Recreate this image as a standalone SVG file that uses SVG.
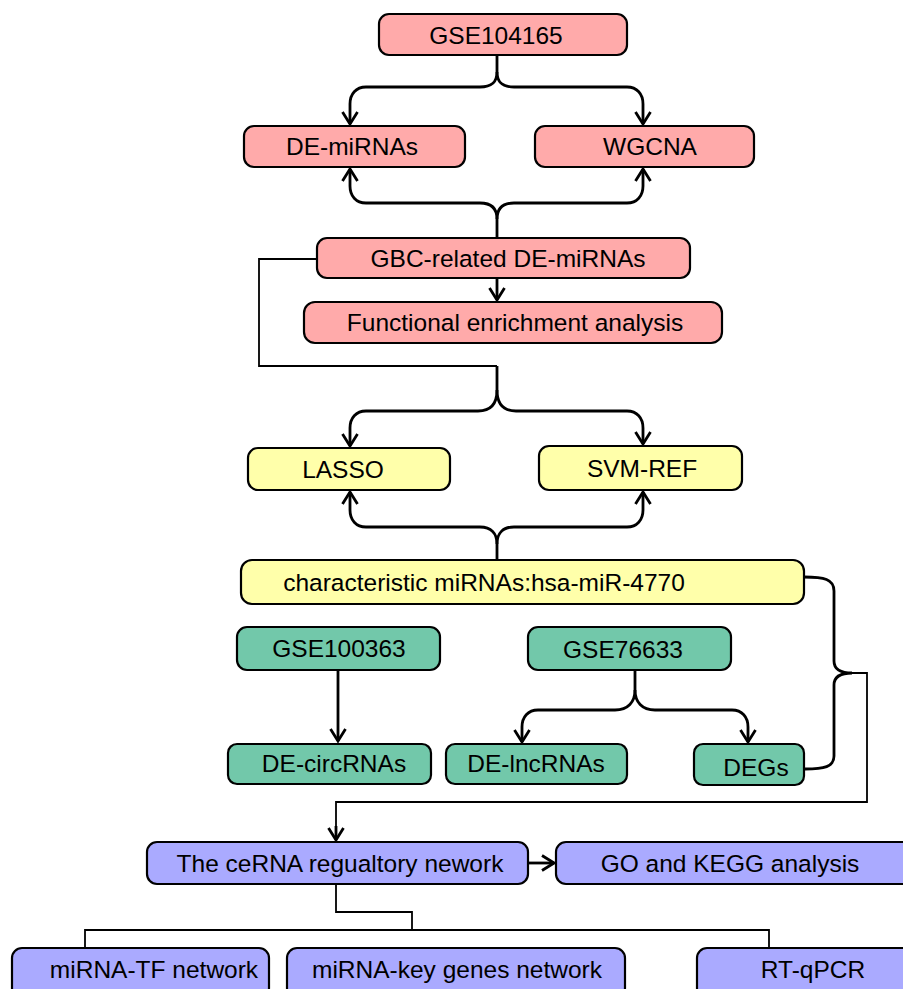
<svg xmlns="http://www.w3.org/2000/svg" width="903" height="989" viewBox="0 0 903 989">
<defs>
<marker id="ah" markerUnits="userSpaceOnUse" viewBox="0 0 16 18" markerWidth="16" markerHeight="18" refX="14" refY="9" orient="auto">
<path d="M2,1.5 L14,9 L2,16.5" fill="none" stroke="#000" stroke-width="2.8" stroke-linejoin="miter"/>
</marker>
</defs>
<style>
.box{stroke:#000;stroke-width:2.2}
.pink{fill:#FFAAAA}
.yellow{fill:#FFFFAA}
.green{fill:#72C8AA}
.purple{fill:#AAAAFF}
text{font-family:"Liberation Sans",Arial,sans-serif;font-size:24.5px;fill:#000;text-anchor:middle}
.c{fill:none;stroke:#000;stroke-width:2.8}
.t{fill:none;stroke:#000;stroke-width:1.8}
</style>
<rect width="903" height="989" fill="#fff"/>
<g id="connectors">
<path class="c" d="M497 54 V72 C497 83 491 87 480 87 H366 C356 87 350 94 350 104 V124" marker-end="url(#ah)"/>
<path class="c" d="M497 72 C497 83 503 87 514 87 H627 C637 87 643 94 643 104 V124" marker-end="url(#ah)"/>
<path class="c" d="M497 238 V219 C497 208 491 203 480 203 H366 C356 203 350 196 350 186 V169" marker-end="url(#ah)"/>
<path class="c" d="M497 219 C497 208 503 203 514 203 H627 C637 203 643 196 643 186 V169" marker-end="url(#ah)"/>
<path class="c" d="M497 278 V300" marker-end="url(#ah)"/>
<path class="t" d="M317 259 H259 V366 H497"/>
<path class="c" d="M497 366 V390 C497 404 491 411 478 411 H366 C356 411 350 418 350 428 V446" marker-end="url(#ah)"/>
<path class="c" d="M497 390 C497 404 503 411 516 411 H627 C637 411 643 418 643 428 V444" marker-end="url(#ah)"/>
<path class="c" d="M497 560 V544 C497 533 491 527 480 527 H366 C356 527 350 520 350 510 V492" marker-end="url(#ah)"/>
<path class="c" d="M497 544 C497 533 503 527 514 527 H627 C637 527 643 520 643 510 V492" marker-end="url(#ah)"/>
<path class="c" d="M338 670 V741" marker-end="url(#ah)"/>
<path class="c" d="M635 670 V690 C635 702 628 710 615 710 H538 C528 710 522 717 522 727 V742" marker-end="url(#ah)"/>
<path class="c" d="M635 690 C635 702 642 710 655 710 H732 C742 710 748 717 748 727 V742" marker-end="url(#ah)"/>
<path class="c" d="M804 577 C824 577 834 579 834 591 V661 C834 669 840 673 852 673 C840 673 834 677 834 685 V756 C834 767 824 769 805 769"/>
<path class="t" d="M852 673 H867 V802 H336 V840" />
<path class="c" d="M336 826 V840" marker-end="url(#ah)" stroke-width="2"/>
<path class="c" d="M529 863 H554" marker-end="url(#ah)"/>
<path class="t" d="M336 884 V912 H412 V930 M85 948 V930 H769 V948"/>
</g>
<g id="n-gse104165"><rect class="box pink" x="379" y="14" width="248" height="41" rx="10"/><text x="496" y="44">GSE104165</text></g>
<g id="n-demirnas"><rect class="box pink" x="244" y="126" width="221" height="41" rx="10"/><text x="352" y="155">DE-miRNAs</text></g>
<g id="n-wgcna"><rect class="box pink" x="535" y="126" width="219" height="41" rx="10"/><text x="650" y="155">WGCNA</text></g>
<g id="n-gbc"><rect class="box pink" x="317" y="238" width="373" height="40" rx="10"/><text x="508" y="267">GBC-related DE-miRNAs</text></g>
<g id="n-functional"><rect class="box pink" x="304" y="302" width="418" height="41" rx="11"/><text x="515" y="331">Functional enrichment analysis</text></g>
<g id="n-lasso"><rect class="box yellow" x="248" y="448" width="202" height="42" rx="10"/><text x="343" y="478">LASSO</text></g>
<g id="n-svm"><rect class="box yellow" x="539" y="446" width="203" height="44" rx="10"/><text x="642" y="477">SVM-REF</text></g>
<g id="n-char"><rect class="box yellow" x="241" y="560" width="563" height="44" rx="11"/><text x="484" y="591">characteristic miRNAs:hsa-miR-4770</text></g>
<g id="n-gse100363"><rect class="box green" x="237" y="627" width="203" height="43" rx="10"/><text x="339" y="657">GSE100363</text></g>
<g id="n-gse76633"><rect class="box green" x="528" y="627" width="203" height="43" rx="10"/><text x="623" y="658">GSE76633</text></g>
<g id="n-circ"><rect class="box green" x="228" y="744" width="203" height="40" rx="9"/><text x="334" y="772">DE-circRNAs</text></g>
<g id="n-lnc"><rect class="box green" x="446" y="744" width="181" height="40" rx="9"/><text x="536" y="772">DE-lncRNAs</text></g>
<g id="n-degs"><rect class="box green" x="694" y="744" width="110" height="41" rx="9"/><text x="756" y="776">DEGs</text></g>
<g id="n-cerna"><rect class="box purple" x="147" y="842" width="381" height="42" rx="10"/><text x="340" y="872">The ceRNA regualtory nework</text></g>
<g id="n-gokegg"><rect class="box purple" x="556" y="842" width="360" height="42" rx="10"/><text x="730" y="872">GO and KEGG analysis</text></g>
<g id="n-mirnatf"><rect class="box purple" x="12" y="948" width="257" height="50" rx="10"/><text x="154" y="978">miRNA-TF network</text></g>
<g id="n-mirnakey"><rect class="box purple" x="287" y="948" width="338" height="50" rx="10"/><text x="457" y="978">miRNA-key genes network</text></g>
<g id="n-rtqpcr"><rect class="box purple" x="697" y="948" width="220" height="50" rx="10"/><text x="813" y="978">RT-qPCR</text></g>
</svg>
